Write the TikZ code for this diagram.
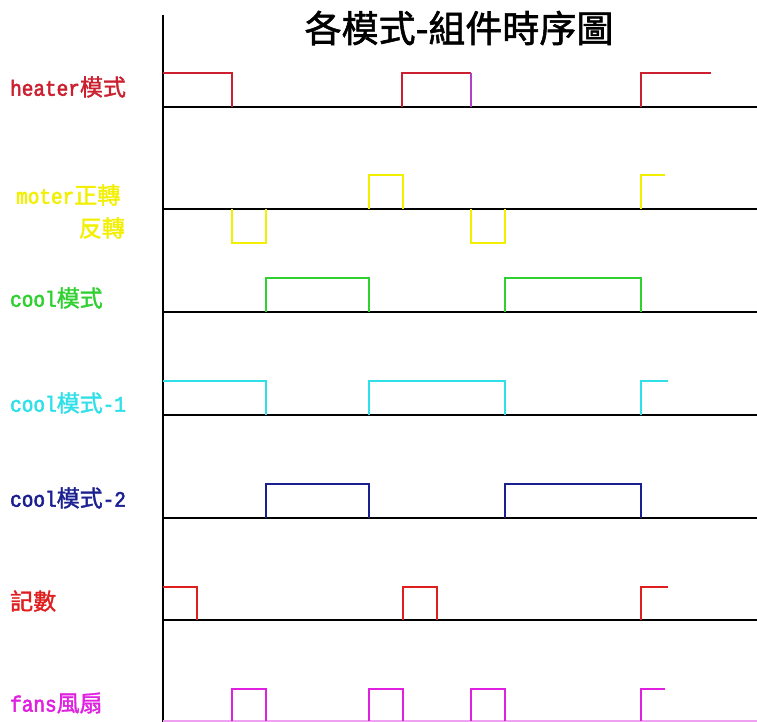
\documentclass[tikz,border=0pt]{standalone}
\usepackage{fontspec}
\newfontfamily\latf{Liberation Mono}[FakeBold=2.5,FakeStretch=0.88]
\newfontfamily\cjk{Noto Sans CJK TC}[FakeBold=1.5]
\newfontfamily\cjkt{Noto Sans CJK TC}[FakeBold=1.5]
\newcommand\cjtext[1]{{\fontsize{23}{24}\selectfont\cjk #1}}
\newcommand\lttext[1]{{\fontsize{22}{24}\selectfont\latf #1}}
\definecolor{hred}{HTML}{CC2030}
\definecolor{hpurp}{HTML}{B040C8}
\definecolor{myel}{HTML}{F2F000}
\definecolor{cgreen}{HTML}{30D030}
\definecolor{ccyan}{HTML}{30E0E8}
\definecolor{cnavy}{HTML}{1A2090}
\definecolor{cred}{HTML}{E01E1E}
\definecolor{fmag}{HTML}{E020E0}
\definecolor{fpink}{HTML}{F0A0F0}
\begin{document}
\begin{tikzpicture}[x=1pt,y=-1pt,
  axisline/.style={line width=2.4pt,black},
  baseln/.style={line width=1.9pt,black},
  sig/.style={line width=1.5pt,line join=miter},
  fsig/.style={line width=2.6pt,fmag,line join=miter},
  lab/.style={anchor=west,inner sep=0pt}]
\useasboundingbox (0,0) rectangle (757,722);
\fill[white] (0,0) rectangle (757,722);
% title
\node[inner sep=0pt,font=\fontsize{37}{39}\selectfont\cjkt] (title) at (459,28) {各模式-組件時序圖};
% axis and baselines
\draw[axisline] (163,15) -- (163,722);
\foreach \y in {107,209,312,415,518,620}
  \draw[baseln] (163,\y) -- (757,\y);
\draw[line width=1.2pt,fpink] (163,721) -- (757,721);
% labels
\node[lab,text=hred] (lheater) at (10,87) {\lttext{heater}\cjtext{模式}};
\node[lab,text=myel] (lmoter) at (16,195) {\lttext{moter}\cjtext{正轉}};
\node[lab,anchor=east,text=myel] (lrev) at (125,228) {\cjtext{反轉}};
\node[lab,text=cgreen] (lcool) at (10,298) {\lttext{cool}\cjtext{模式}};
\node[lab,text=ccyan] (lcoola) at (10,403) {\lttext{cool}\cjtext{模式}\lttext{-1}};
\node[lab,text=cnavy] (lcoolb) at (10,498) {\lttext{cool}\cjtext{模式}\lttext{-2}};
\node[lab,text=cred] (lcount) at (10,601) {\cjtext{記數}};
\node[lab,text=fmag] (lfans) at (10,703) {\lttext{fans}\cjtext{風扇}};
% heater
\draw[sig,hred] (163,73) -- (232,73) -- (232,107);
\draw[sig,hred] (402,107) -- (402,73) -- (471,73);
\draw[sig,hpurp] (471,73) -- (471,107);
\draw[sig,hred] (641,107) -- (641,73) -- (711,73);
% moter
\draw[sig,myel] (369,209) -- (369,175) -- (403,175) -- (403,209);
\draw[sig,myel] (641,209) -- (641,175) -- (665,175);
\draw[sig,myel] (232,209) -- (232,243) -- (266,243) -- (266,209);
\draw[sig,myel] (471,209) -- (471,243) -- (505,243) -- (505,209);
% cool
\draw[sig,cgreen] (266,312) -- (266,278) -- (369,278) -- (369,312);
\draw[sig,cgreen] (505,312) -- (505,278) -- (641,278) -- (641,312);
% cool-1
\draw[sig,ccyan] (163,381) -- (266,381) -- (266,415);
\draw[sig,ccyan] (369,415) -- (369,381) -- (505,381) -- (505,415);
\draw[sig,ccyan] (641,415) -- (641,381) -- (668,381);
% cool-2
\draw[sig,cnavy] (266,518) -- (266,484) -- (369,484) -- (369,518);
\draw[sig,cnavy] (505,518) -- (505,484) -- (641,484) -- (641,518);
% count
\draw[sig,cred] (163,587) -- (197,587) -- (197,620);
\draw[sig,cred] (403,620) -- (403,587) -- (437,587) -- (437,620);
\draw[sig,cred] (641,620) -- (641,587) -- (668,587);
% fans
\draw[fsig] (232,721) -- (232,689) -- (266,689) -- (266,721);
\draw[fsig] (369,721) -- (369,689) -- (403,689) -- (403,721);
\draw[fsig] (471,721) -- (471,689) -- (505,689) -- (505,721);
\draw[fsig] (641,721) -- (641,689) -- (665,689);
\end{tikzpicture}
\end{document}
